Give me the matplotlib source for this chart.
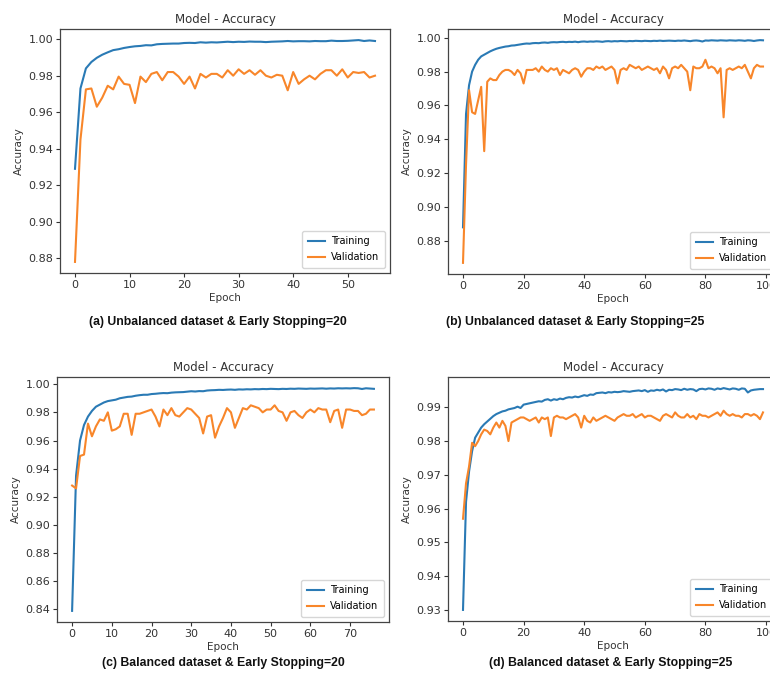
import numpy as np
import matplotlib
matplotlib.use("Agg")
import matplotlib.pyplot as plt

W, H = 770, 684

# (a) unbalanced, early stopping 20
train_a = [0.929, 0.973, 0.984, 0.9875, 0.9898, 0.9915, 0.9928, 0.9940, 0.9945, 0.9952,
           0.9957, 0.9961, 0.9963, 0.9967, 0.9966, 0.9972, 0.9974, 0.9975, 0.9976, 0.9976,
           0.9979, 0.9980, 0.9979, 0.9983, 0.9981, 0.9983, 0.9982, 0.9984, 0.9986, 0.9984,
           0.9986, 0.9985, 0.9987, 0.9986, 0.9986, 0.9984, 0.9986, 0.9987, 0.9988, 0.9990,
           0.9988, 0.9989, 0.9989, 0.9988, 0.9990, 0.9989, 0.9989, 0.9992, 0.9990, 0.9990,
           0.9991, 0.9993, 0.9995, 0.9990, 0.9993, 0.9990]
val_a = [0.878, 0.945, 0.9725, 0.973, 0.963, 0.968, 0.9745, 0.9725, 0.9795, 0.9755,
         0.975, 0.965, 0.9795, 0.9765, 0.981, 0.982, 0.9775, 0.982, 0.982, 0.9795,
         0.9755, 0.9795, 0.973, 0.981, 0.979, 0.981, 0.981, 0.979, 0.983, 0.980,
         0.9835, 0.981, 0.983, 0.9805, 0.983, 0.980, 0.979, 0.9805, 0.980, 0.972,
         0.982, 0.9755, 0.978, 0.980, 0.978, 0.981, 0.983, 0.983, 0.980, 0.9835,
         0.979, 0.982, 0.9815, 0.982, 0.979, 0.980]

# (b) unbalanced, early stopping 25
train_b = [0.888, 0.955, 0.972, 0.980, 0.984, 0.987, 0.989, 0.990, 0.991, 0.992,
           0.9928, 0.9935, 0.994, 0.9944, 0.9948, 0.9950, 0.9954, 0.9955, 0.9958, 0.9961,
           0.9964, 0.9966, 0.9965, 0.9968, 0.9969, 0.9968, 0.9971, 0.9972, 0.9970, 0.9973,
           0.9974, 0.9973, 0.9975, 0.9976, 0.9974, 0.9976, 0.9975, 0.9977, 0.9974, 0.9977,
           0.9978, 0.9976, 0.9978, 0.9977, 0.9979, 0.9978, 0.9976, 0.9979, 0.9980, 0.9978,
           0.9980, 0.9979, 0.9981, 0.9980, 0.9979, 0.9981, 0.9980, 0.9982, 0.9981, 0.9980,
           0.9982, 0.9981, 0.9980, 0.9982, 0.9981, 0.9983, 0.9981, 0.9982, 0.9983, 0.9982,
           0.9981, 0.9983, 0.9982, 0.9984, 0.9982, 0.9980, 0.9983, 0.9984, 0.9982, 0.9978,
           0.9984, 0.9983, 0.9985, 0.9984, 0.9983, 0.9985, 0.9984, 0.9983, 0.9985, 0.9984,
           0.9983, 0.9985, 0.9984, 0.9982, 0.9985, 0.9984, 0.9981, 0.9984, 0.9986, 0.9985]
val_b = [0.867, 0.925, 0.969, 0.956, 0.955, 0.963, 0.971, 0.933, 0.974, 0.976,
         0.975, 0.975, 0.978, 0.980, 0.981, 0.981, 0.980, 0.978, 0.981, 0.979,
         0.973, 0.981, 0.981, 0.981, 0.982, 0.980, 0.983, 0.981, 0.980, 0.982,
         0.981, 0.982, 0.978, 0.981, 0.980, 0.979, 0.981, 0.982, 0.981, 0.977,
         0.980, 0.982, 0.982, 0.981, 0.983, 0.982, 0.983, 0.981, 0.982, 0.983,
         0.981, 0.973, 0.981, 0.982, 0.981, 0.984, 0.983, 0.982, 0.983, 0.981,
         0.982, 0.983, 0.982, 0.981, 0.982, 0.979, 0.983, 0.981, 0.976, 0.982,
         0.983, 0.982, 0.984, 0.982, 0.980, 0.969, 0.983, 0.982, 0.982, 0.983,
         0.987, 0.982, 0.983, 0.982, 0.979, 0.982, 0.953, 0.981, 0.982, 0.981,
         0.982, 0.983, 0.982, 0.984, 0.980, 0.976, 0.982, 0.984, 0.983, 0.983]

# (c) balanced, early stopping 20
train_c = [0.839, 0.935, 0.960, 0.971, 0.977, 0.981, 0.984, 0.9855, 0.987, 0.988,
           0.9885, 0.989, 0.990, 0.9905, 0.991, 0.9912, 0.9918, 0.9922, 0.9925, 0.9925,
           0.993, 0.9932, 0.9935, 0.9937, 0.9936, 0.994, 0.9942, 0.9943, 0.9944, 0.9947,
           0.9950, 0.9948, 0.9951, 0.9950, 0.9955, 0.9957, 0.9958, 0.9960, 0.9959, 0.9961,
           0.9962, 0.9960, 0.9963, 0.9962, 0.9964, 0.9963, 0.9965, 0.9964, 0.9966, 0.9965,
           0.9967, 0.9966, 0.9965, 0.9967, 0.9966, 0.9968, 0.9967, 0.9969, 0.9968, 0.9967,
           0.9969, 0.9968, 0.9969, 0.9970, 0.9968, 0.9970, 0.9969, 0.9971, 0.9970, 0.9971,
           0.9970, 0.9972, 0.9971, 0.9966, 0.9971, 0.9969, 0.9967]
val_c = [0.928, 0.926, 0.949, 0.950, 0.972, 0.963, 0.970, 0.975, 0.974, 0.980,
         0.967, 0.968, 0.970, 0.979, 0.979, 0.964, 0.979, 0.979, 0.980, 0.981,
         0.982, 0.977, 0.970, 0.982, 0.978, 0.983, 0.978, 0.977, 0.980, 0.983,
         0.982, 0.979, 0.976, 0.965, 0.977, 0.978, 0.962, 0.970, 0.976, 0.983,
         0.980, 0.969, 0.976, 0.983, 0.982, 0.985, 0.984, 0.983, 0.980, 0.982,
         0.982, 0.985, 0.981, 0.980, 0.974, 0.980, 0.981, 0.978, 0.976, 0.980,
         0.982, 0.980, 0.983, 0.982, 0.982, 0.973, 0.981, 0.982, 0.969, 0.982,
         0.982, 0.981, 0.981, 0.978, 0.979, 0.982, 0.982]

# (d) balanced, early stopping 25
train_d = [0.930, 0.962, 0.971, 0.977, 0.981, 0.9825, 0.984, 0.985, 0.9858, 0.9866,
           0.9874, 0.988, 0.9884, 0.9888, 0.989, 0.9894, 0.9896, 0.9898, 0.9902, 0.9898,
           0.9908, 0.9910, 0.9912, 0.9914, 0.9916, 0.9918, 0.9917, 0.9922, 0.9924, 0.9920,
           0.9924, 0.9922, 0.9926, 0.9924, 0.9928, 0.9930, 0.9929, 0.9932, 0.9930, 0.9933,
           0.9936, 0.9934, 0.9938, 0.9937, 0.9942, 0.9943, 0.9944, 0.9942, 0.9945, 0.9944,
           0.9946, 0.9945, 0.9946, 0.9948, 0.9947, 0.9946, 0.9948, 0.9949, 0.9950, 0.9948,
           0.9951, 0.9946, 0.9950, 0.9949, 0.9952, 0.9950, 0.9953, 0.9947, 0.9952, 0.9951,
           0.9954, 0.9953, 0.9951, 0.9955, 0.9952, 0.9954, 0.9953, 0.9948, 0.9954, 0.9955,
           0.9953, 0.9956, 0.9955, 0.9952, 0.9956, 0.9954, 0.9957, 0.9955, 0.9953, 0.9956,
           0.9955, 0.9952, 0.9956, 0.9955, 0.9944, 0.9950, 0.9952, 0.9953, 0.9954, 0.9954]
val_d = [0.957, 0.9675, 0.9725, 0.9795, 0.9785, 0.980, 0.982, 0.9834, 0.983, 0.982,
         0.984, 0.9855, 0.984, 0.986, 0.9845, 0.980, 0.9855, 0.986, 0.9865, 0.987,
         0.987, 0.9865, 0.986, 0.9865, 0.987, 0.9855, 0.987, 0.9865, 0.987, 0.9815,
         0.987, 0.9875, 0.987, 0.987, 0.9865, 0.987, 0.9875, 0.988, 0.987, 0.984,
         0.9875, 0.986, 0.9855, 0.987, 0.986, 0.9865, 0.987, 0.9875, 0.987, 0.9865,
         0.986, 0.987, 0.9875, 0.988, 0.9875, 0.9875, 0.988, 0.987, 0.9875, 0.988,
         0.987, 0.9875, 0.9875, 0.987, 0.9865, 0.986, 0.9875, 0.988, 0.9875, 0.987,
         0.9885, 0.9875, 0.987, 0.987, 0.988, 0.987, 0.9875, 0.9865, 0.988, 0.9875,
         0.9875, 0.987, 0.9875, 0.988, 0.9885, 0.9875, 0.989, 0.988, 0.9875, 0.988,
         0.9875, 0.9875, 0.987, 0.988, 0.988, 0.9875, 0.988, 0.9875, 0.9865, 0.9885]

captions = ["(a) Unbalanced dataset & Early Stopping=20",
            "(b) Unbalanced dataset & Early Stopping=25",
            "(c) Balanced dataset & Early Stopping=20",
            "(d) Balanced dataset & Early Stopping=25"]


def px_rect(left, top, right, bottom):
    return [left / W, 1 - bottom / H, (right - left) / W, (bottom - top) / H]


def draw_panel(fig, rect, train, val):
    ax = fig.add_axes(px_rect(*rect))
    ax.plot(np.arange(len(train)), train, color="#2a7ab5", lw=1.5, label="Training")
    ax.plot(np.arange(len(val)), val, color="#f8862a", lw=1.5, label="Validation")
    ax.set_title("Model - Accuracy", fontsize=8.5, color="#333333", pad=4)
    ax.set_xlabel("Epoch", fontsize=7.5, color="#333333", labelpad=2)
    ax.set_ylabel("Accuracy", fontsize=7.5, color="#333333", labelpad=3)
    ax.tick_params(labelsize=8, colors="#333333", length=3, width=0.8, pad=2)
    for sp in ax.spines.values():
        sp.set_color("#444444")
        sp.set_linewidth(0.9)
    ax.legend(loc="lower right", fontsize=7, borderpad=0.6, labelspacing=0.6,
              handlelength=1.8, handletextpad=0.6, borderaxespad=0.5)
    return ax


fig = plt.figure(figsize=(W / 100, H / 100), dpi=100)

draw_panel(fig, (60, 29, 390, 273), train_a, val_a)
draw_panel(fig, (448, 29, 778, 274), train_b, val_b)
draw_panel(fig, (57, 377, 389, 622), train_c, val_c)
draw_panel(fig, (448, 377, 778, 621), train_d, val_d)

cap_pos = [(218, 322), (575, 322), (223, 663), (611, 663)]
for text, (cx, cy) in zip(captions, cap_pos):
    fig.text(cx / W, 1 - cy / H, text, ha="center", va="center",
             fontsize=8.8, fontweight="bold", family="Liberation Sans", color="#111111")

fig.savefig("out.png", dpi=100)
